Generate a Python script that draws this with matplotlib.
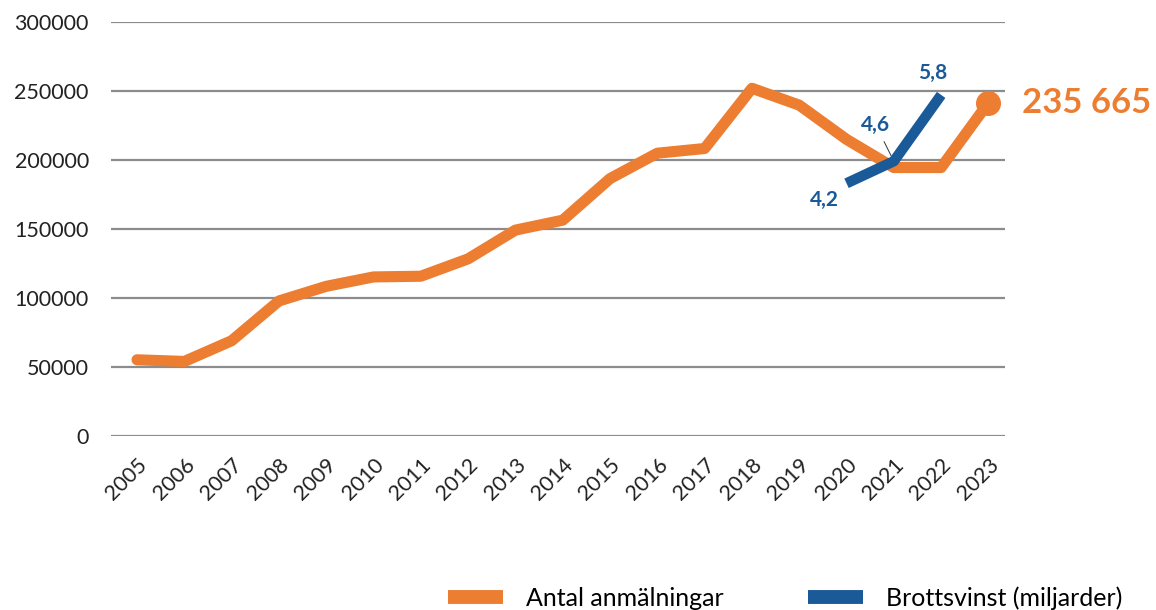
import matplotlib.pyplot as plt
import numpy as np

plt.rcParams['font.family'] = ['Lato', 'DejaVu Sans']

years = ['2005', '2006', '2007', '2008', '2009', '2010', '2011', '2012', '2013', '2014',
         '2015', '2016', '2017', '2018', '2019', '2020', '2021', '2022', '2023']
anmalningar = [55400, 54200, 69200, 98000, 108600, 115400, 115900, 128500, 149300, 156500,
               186600, 205000, 208400, 252000, 239800, 215000, 194600, 194600, 241600]
vinst_years = ['2020', '2021', '2022']
vinst = [4.2, 4.6, 5.8]
vinst_labels = ['4,2', '4,6', '5,8']
last_label = '235 665'

orange = '#ED7D31'
blue = '#1B5A98'

fig = plt.figure(figsize=(11.56, 6.10), dpi=100)
ax = fig.add_axes([111 / 1156, 1 - 436.3 / 610, (1005 - 111) / 1156, (436.3 - 22) / 610])

x = np.arange(len(years))
ax.plot(x, anmalningar, color=orange, lw=8, solid_capstyle='round', solid_joinstyle='round', zorder=3)
ax.plot(x[-1], anmalningar[-1], 'o', color=orange, ms=17, zorder=4)
ax.text(x[-1] + 0.7, anmalningar[-1], last_label, color=orange, fontsize=25, fontweight='bold',
        ha='left', va='center')

ax.set_ylim(0, 300000)
ax.set_xlim(-0.55, 18.35)
ax.set_yticks(np.arange(0, 300001, 50000))
ax.set_yticklabels([str(v) for v in range(0, 300001, 50000)])
ax.set_xticks(x)
ax.set_xticklabels(years, rotation=45, ha='right', rotation_mode='anchor')
ax.tick_params(axis='y', length=0, pad=16, labelsize=15.5, labelcolor='#222222')
ax.tick_params(axis='x', length=0, pad=13, labelsize=15.5, labelcolor='#222222')
ax.grid(axis='y', color='#8c8c8c', lw=1.6)
ax.set_axisbelow(True)
for s in ax.spines.values():
    s.set_visible(False)

# blue series on hidden secondary axis
ax2 = ax.twinx()
ax2.set_ylim(-0.38, 7.12)
ax2.axis('off')
xv = [years.index(y) for y in vinst_years]
ax2.plot(xv, vinst, color=blue, lw=7.5, solid_capstyle='butt', zorder=5)

offsets = [(-16, -12), (-13, 26), (-6, 16)]
for xi, v, lab, off in zip(xv, vinst, vinst_labels, offsets):
    if lab == '4,6':
        ax2.annotate(lab, (xi, v), xytext=off, textcoords='offset points', color=blue,
                     fontsize=15, fontweight='bold', ha='center', va='center',
                     arrowprops=dict(arrowstyle='-', color='#333333', lw=0.7, shrinkA=3, shrinkB=0))
    else:
        ax2.annotate(lab, (xi, v), xytext=off, textcoords='offset points', color=blue,
                     fontsize=15, fontweight='bold', ha='center', va='center')

h1 = plt.Line2D([], [], color=orange, lw=10, solid_capstyle='butt')
h2 = plt.Line2D([], [], color=blue, lw=10, solid_capstyle='butt')
fig.legend([h1, h2], ['Antal anmälningar', 'Brottsvinst (miljarder)'], loc='center',
           bbox_to_anchor=(785 / 1156, 1 - 598 / 610), ncol=2, frameon=False, fontsize=18,
           handlelength=2.2, handletextpad=0.9, columnspacing=3.4)

fig.savefig('out.png', dpi=100)
